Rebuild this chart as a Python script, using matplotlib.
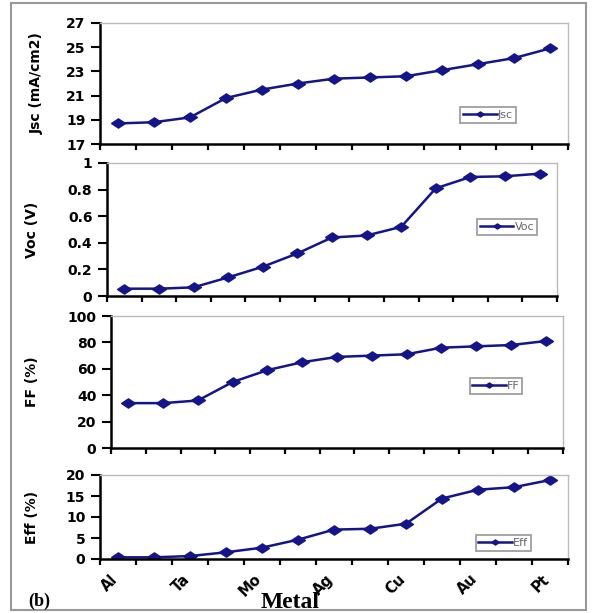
import matplotlib
matplotlib.use("Agg")
import matplotlib.pyplot as plt
from matplotlib.patches import Rectangle
from matplotlib.transforms import ScaledTranslation

categories = ['Al', '', 'Ta', '', 'Mo', '', 'Ag', '', 'Cu', '', 'Au', '', 'Pt']
jsc = [18.7, 18.8, 19.2, 20.8, 21.5, 22.0, 22.4, 22.5, 22.6, 23.1, 23.6, 24.1, 24.9]
voc = [0.055, 0.055, 0.065, 0.14, 0.22, 0.32, 0.44, 0.455, 0.52, 0.81, 0.895, 0.90, 0.92]
ff = [34, 34, 36, 50, 59, 65, 69, 70, 71, 76, 77, 78, 81]
eff = [0.4, 0.4, 0.7, 1.6, 2.7, 4.6, 7.0, 7.2, 8.4, 14.4, 16.5, 17.1, 18.8]

W, H = 594, 613
fig = plt.figure(figsize=(W / 100, H / 100), dpi=100)
plt.rcParams['font.family'] = ['DejaVu Sans']

color = '#15158a'
wide_diamond = [(-1.5, 0), (0, 1), (1.5, 0), (0, -1), (-1.5, 0)]


def px_axes(l, r, t, b):
    return fig.add_axes([l / W, 1 - b / H, (r - l) / W, (b - t) / H])


panels = [
    dict(data=jsc, name='Jsc', ylabel='Jsc (mA/cm2)', ylim=(17, 27), yticks=[17, 19, 21, 23, 25, 27],
         box=(100, 568, 23, 144), leg=(488, 115), labx=37),
    dict(data=voc, name='Voc', ylabel='Voc (V)', ylim=(0, 1), yticks=[0, 0.2, 0.4, 0.6, 0.8, 1],
         box=(107, 557, 163, 296), leg=(507, 227), labx=32),
    dict(data=ff, name='FF', ylabel='FF (%)', ylim=(0, 100), yticks=[0, 20, 40, 60, 80, 100],
         box=(111, 563, 316, 448), leg=(496, 386), labx=32),
    dict(data=eff, name='Eff', ylabel='Eff (%)', ylim=(0, 20), yticks=[0, 5, 10, 15, 20],
         box=(100, 568, 475, 559), leg=(503, 543), labx=32),
]

n = len(categories)
xs = list(range(n))

for i, p in enumerate(panels):
    l, r, t, b = p['box']
    ax = px_axes(l, r, t, b)
    ax.plot(xs, p['data'], color=color, lw=1.8, marker=wide_diamond, markersize=10,
            markerfacecolor=color, markeredgecolor=color, label=p['name'])
    ax.set_xlim(-0.5, n - 0.5)
    ax.set_ylim(*p['ylim'])
    ax.set_yticks(p['yticks'])
    ax.set_yticklabels(['{:g}'.format(v) for v in p['yticks']], fontsize=10, fontweight='bold')
    ax.set_xticks([k - 0.5 for k in range(n + 1)])
    ax.set_xticklabels([])
    ax.tick_params(axis='y', direction='out', length=6.5, width=1.5, color='black', pad=4)
    ax.tick_params(axis='x', direction='out', length=4, width=1.6, color='black')
    for s in ('left', 'bottom'):
        ax.spines[s].set_color('black')
        ax.spines[s].set_linewidth(1.8)
    for s in ('top', 'right'):
        ax.spines[s].set_color('#bbbbbb')
        ax.spines[s].set_linewidth(1.0)
    fig.text(p['labx'] / W, 1 - (t + b) / 2 / H, p['ylabel'], rotation=90,
             ha='center', va='center', fontsize=10, fontweight='bold')
    lx, ly = p['leg']
    leg = ax.legend(loc='center', bbox_to_anchor=(lx / W, 1 - ly / H), bbox_transform=fig.transFigure,
                    fontsize=8, frameon=True, fancybox=False, handlelength=3.0, handletextpad=0.1,
                    borderpad=0.25, markerscale=0.55, borderaxespad=0)
    leg.get_frame().set_edgecolor('#888888')
    leg.get_frame().set_linewidth(1.3)
    for txt in leg.get_texts():
        txt.set_color('#666666')
    if i == len(panels) - 1:
        ax.set_xticks(xs, minor=True)
        ax.set_xticklabels(categories, minor=True, rotation=45, ha='right', va='top',
                           rotation_mode='anchor', fontsize=10.5, fontweight='bold')
        ax.tick_params(axis='x', which='minor', length=0, pad=9)
        shift = ScaledTranslation(-8 / 100, 0, fig.dpi_scale_trans)
        for lab in ax.get_xticklabels(minor=True):
            lab.set_transform(lab.get_transform() + shift)

fig.text(39 / W, 1 - 601 / H, '(b)', ha='center', va='center', fontsize=13,
         fontweight='bold', family=['Liberation Serif', 'DejaVu Serif'])
fig.text(290 / W, 1 - 603 / H, 'Metal', ha='center', va='center', fontsize=17,
         fontweight='bold', family=['Liberation Serif', 'DejaVu Serif'])

fig.patches.append(Rectangle((11 / W, 1 - 610 / H), 575 / W, 607 / H, transform=fig.transFigure,
                             fill=False, edgecolor='#999999', linewidth=1.5))

fig.savefig('out.png', dpi=100)
